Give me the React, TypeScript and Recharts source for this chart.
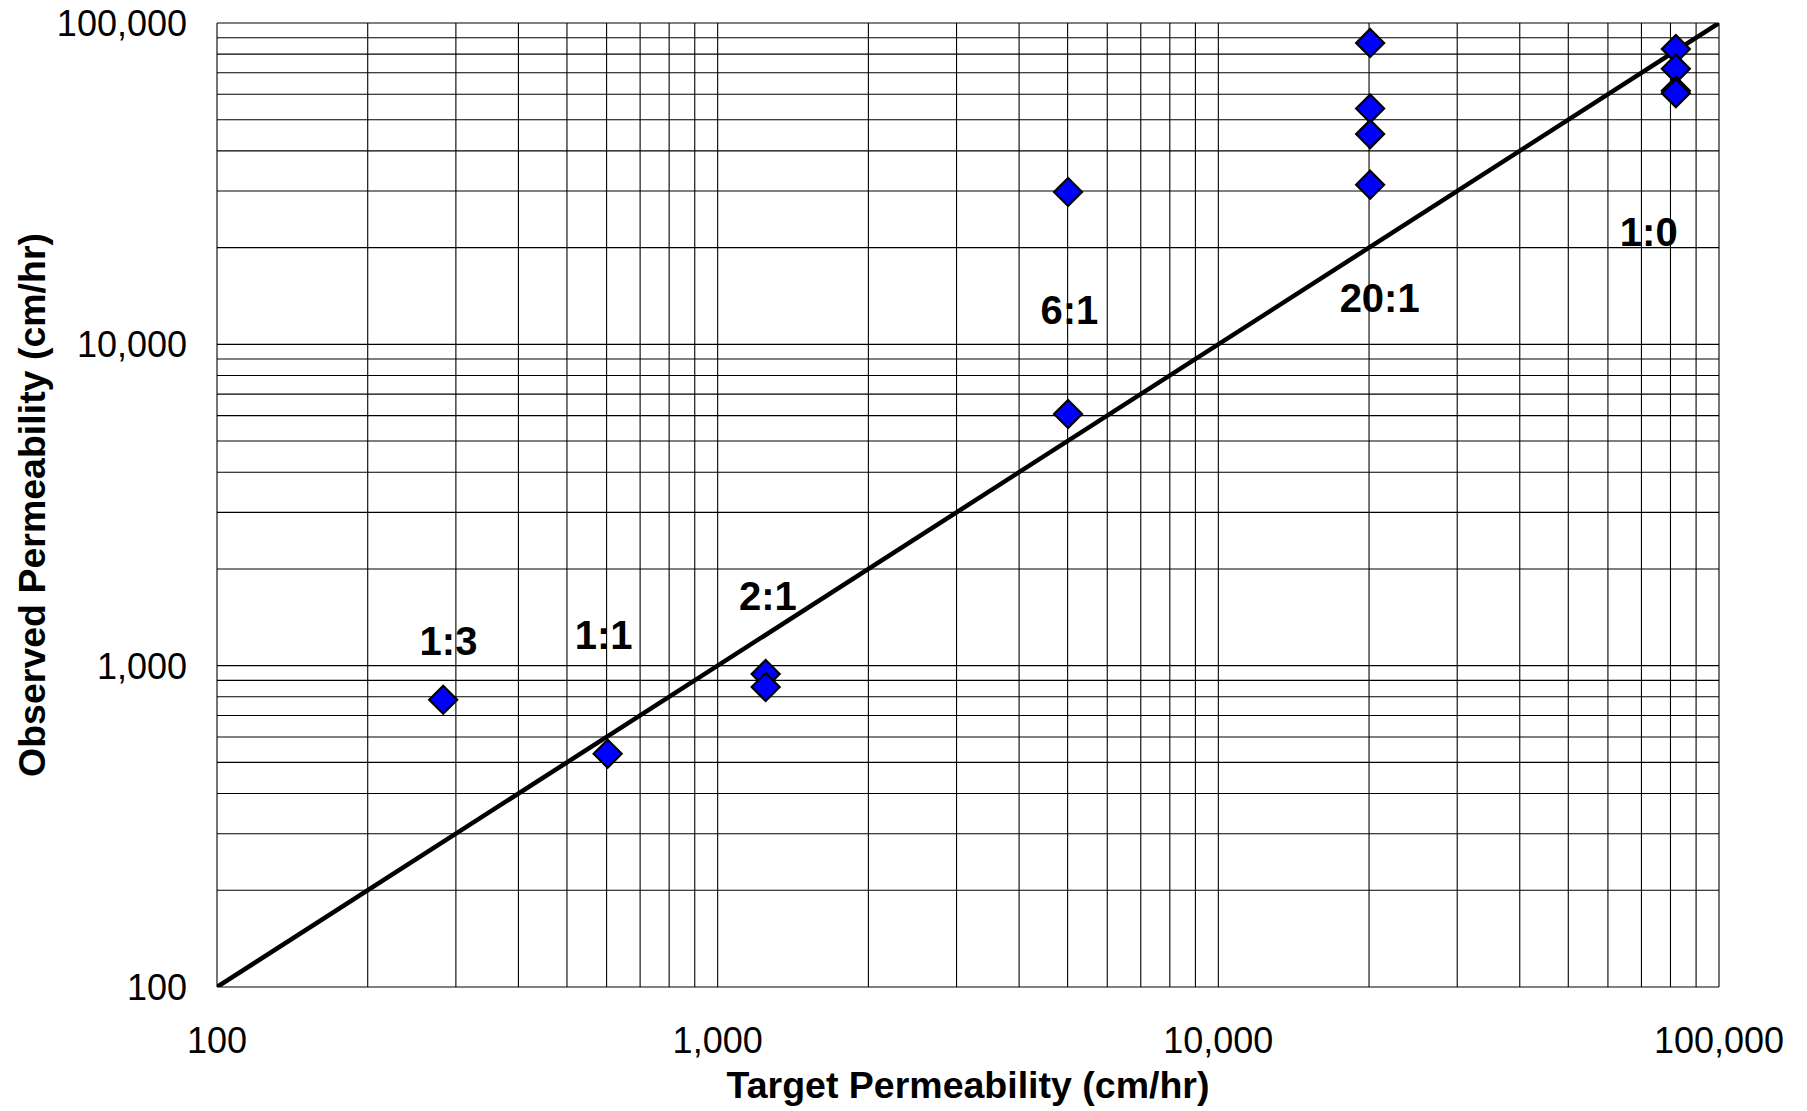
import { ScatterChart, Scatter, XAxis, YAxis, CartesianGrid } from "recharts";

const targetPerm = [283, 603, 1247, 1247, 5010, 5010, 20100, 20100, 20100, 20100, 82000, 82000, 82000, 82000];
const observedPerm = [783, 532, 942, 858, 29800, 6070, 86700, 54200, 45100, 31400, 83000, 72000, 61500, 60500];

// mix ratio annotations and where they sit (data units)
const ratioLabels = ["1:3", "1:1", "2:1", "6:1", "20:1", "1:0"];
const labelTarget = [290, 592, 1260, 5040, 21000, 72400];
const labelObserved = [1190, 1245, 1650, 12800, 13900, 22400];

// 1:1 reference line
const equalityLine = [100, 100000];

const gridTicks = [
    100, 200, 300, 400, 500, 600, 700, 800, 900,
    1000, 2000, 3000, 4000, 5000, 6000, 7000, 8000, 9000,
    10000, 20000, 30000, 40000, 50000, 60000, 70000, 80000, 90000,
    100000,
];
const majorTicks = [100, 1000, 10000, 100000];
const majorTickLabels = ["100", "1,000", "10,000", "100,000"];

const FONT = "'Liberation Sans', Arial, sans-serif";

const points = targetPerm.map((x, i) => ({ x, y: observedPerm[i] }));
const labels = ratioLabels.map((label, i) => ({ x: labelTarget[i], y: labelObserved[i], label }));
const diagonal = equalityLine.map((v) => ({ x: v, y: v }));

function Diamond(props: any) {
    const { cx, cy } = props;
    const r = 14;
    return (
        <polygon
            points={`${cx},${cy - r} ${cx + r},${cy} ${cx},${cy + r} ${cx - r},${cy}`}
            fill="#0000FF"
            stroke="#000"
            strokeWidth={2.2}
        />
    );
}

function RatioText(props: any) {
    return (
        <text
            x={props.cx}
            y={props.cy}
            dy={14}
            textAnchor="middle"
            fontSize={40}
            fontWeight="bold"
            fontFamily={FONT}
            fill="#000"
        >
            {props.payload.label}
        </text>
    );
}

function tickLabel(value: number) {
    const idx = majorTicks.indexOf(value);
    return idx >= 0 ? majorTickLabels[idx] : null;
}

function XTick(props: any) {
    const text = tickLabel(props.payload.value);
    if (!text) return <g />;
    return (
        <text x={props.x} y={props.y} dy={66} textAnchor="middle" fontSize={36} fontFamily={FONT} fill="#000">
            {text}
        </text>
    );
}

function YTick(props: any) {
    const text = tickLabel(props.payload.value);
    if (!text) return <g />;
    return (
        <text x={props.x - 30} y={props.y} dy={13} textAnchor="end" fontSize={36} fontFamily={FONT} fill="#000">
            {text}
        </text>
    );
}

export default function App() {
    return (
        <div style={{ position: "absolute", left: 0, top: 0, background: "#fff" }}>
            <ScatterChart width={1807} height={1111} margin={{ top: 23, right: 88, left: 0, bottom: 0 }}>
                <CartesianGrid stroke="#000" strokeWidth={1.1} />
                <XAxis
                    type="number"
                    dataKey="x"
                    scale="log"
                    domain={[100, 100000]}
                    allowDataOverflow
                    ticks={gridTicks}
                    interval={0}
                    height={124}
                    axisLine={false}
                    tickLine={false}
                    tickSize={0}
                    tickMargin={0}
                    tick={<XTick />}
                    label={{
                        value: "Target Permeability (cm/hr)",
                        position: "insideBottom",
                        offset: 13,
                        style: { fontSize: 37.5, fontWeight: "bold", fontFamily: FONT, fill: "#000" },
                    }}
                />
                <YAxis
                    type="number"
                    dataKey="y"
                    scale="log"
                    domain={[100, 100000]}
                    allowDataOverflow
                    ticks={gridTicks}
                    interval={0}
                    width={217}
                    axisLine={false}
                    tickLine={false}
                    tickSize={0}
                    tickMargin={0}
                    tick={<YTick />}
                    label={{
                        value: "Observed Permeability (cm/hr)",
                        angle: -90,
                        position: "insideLeft",
                        offset: 32,
                        style: { textAnchor: "middle", fontSize: 37.5, fontWeight: "bold", fontFamily: FONT, fill: "#000" },
                    }}
                />
                <Scatter
                    data={diagonal}
                    line={{ stroke: "#000", strokeWidth: 4.5, strokeLinecap: "round" }}
                    shape={() => <g />}
                    isAnimationActive={false}
                />
                <Scatter data={points} shape={<Diamond />} isAnimationActive={false} />
                <Scatter data={labels} shape={<RatioText />} isAnimationActive={false} />
            </ScatterChart>
        </div>
    );
}
